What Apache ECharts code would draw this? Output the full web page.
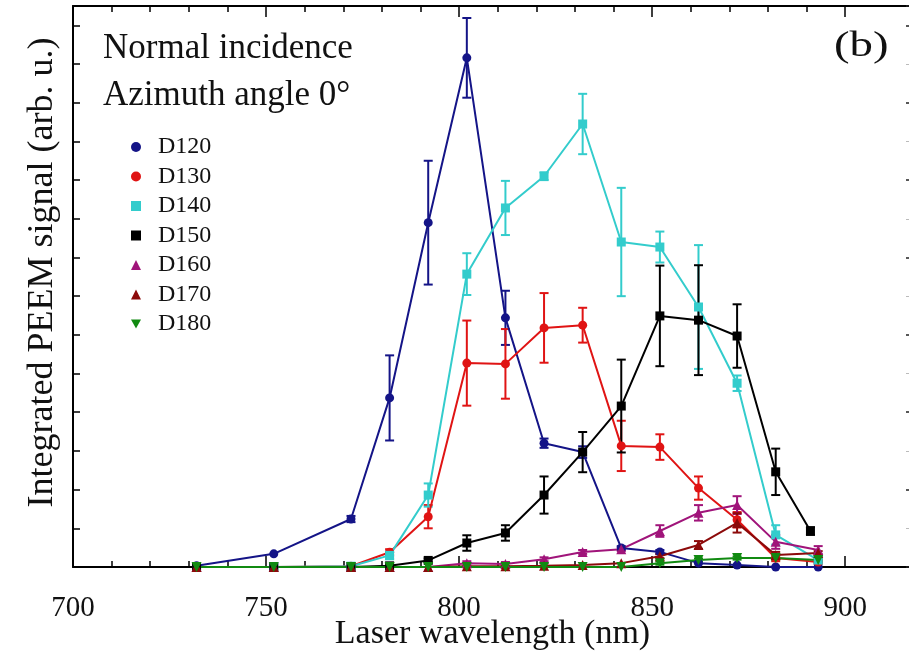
<!DOCTYPE html>
<html><head><meta charset="utf-8">
<script src="https://cdn.jsdelivr.net/npm/echarts@6/dist/echarts.min.js"></script>
<style>html,body{margin:0;padding:0;background:#fff}#c{width:909px;height:656px}</style>
</head><body><div id="c"></div>
<script>
// wavelengths (nm)
const wavelengths = [732, 752, 772, 782, 792, 802, 812, 822, 832, 842, 852, 862, 872, 882, 893];
const wavelengthsD150 = [732, 752, 772, 782, 792, 802, 812, 822, 832, 842, 852, 862, 872, 882, 891];
const seriesNames = ['D120', 'D130', 'D140', 'D150', 'D160', 'D170', 'D180'];
// values (arb. u.)
const D120 = [0.03, 0.34, 1.24, 4.37, 8.9, 13.16, 6.44, 3.2, 2.97, 0.49, 0.39, 0.1, 0.05, 0.0, 0.0];
const D120err = [0, 0, 0.08, 1.1, 1.6, 1.03, 0.7, 0.12, 0.15, 0.05, 0.05, 0, 0, 0, 0];
const D130 = [0, 0, 0.02, 0.38, 1.3, 5.27, 5.25, 6.18, 6.25, 3.13, 3.1, 2.04, 1.22, 0.23, 0.13];
const D130err = [0, 0, 0, 0.08, 0.3, 1.1, 0.9, 0.9, 0.45, 0.65, 0.33, 0.3, 0.2, 0.08, 0.05];
const D140 = [0, 0, 0.02, 0.3, 1.86, 7.57, 9.28, 10.1, 11.45, 8.4, 8.27, 6.72, 4.75, 0.83, 0.18];
const D140err = [0, 0, 0, 0.1, 0.3, 0.54, 0.7, 0.1, 0.78, 1.4, 0.4, 1.6, 0.2, 0.25, 0.08];
const D150 = [0, 0, 0, 0.03, 0.17, 0.62, 0.88, 1.86, 2.97, 4.16, 6.49, 6.38, 5.97, 2.46, 0.93];
const D150err = [0, 0, 0, 0, 0.05, 0.2, 0.2, 0.48, 0.52, 1.2, 1.3, 1.42, 0.82, 0.6, 0.1];
const D160 = [0, 0, 0, 0, 0, 0.1, 0.08, 0.2, 0.39, 0.46, 0.93, 1.4, 1.6, 0.65, 0.44];
const D160err = [0, 0, 0, 0, 0, 0.05, 0.05, 0.05, 0.05, 0.05, 0.15, 0.2, 0.23, 0.18, 0.1];
const D170 = [0, 0, 0, 0, 0, 0.02, 0.02, 0.03, 0.05, 0.1, 0.28, 0.57, 1.14, 0.31, 0.36];
const D170err = [0, 0, 0, 0, 0, 0, 0, 0, 0, 0, 0.05, 0.1, 0.25, 0.08, 0.05];
const D180 = [0, 0, 0, 0, 0, 0, 0, 0, 0, 0, 0.1, 0.18, 0.23, 0.23, 0.18];
const D180err = [0, 0, 0, 0, 0, 0, 0, 0, 0, 0, 0.04, 0.04, 0.04, 0.04, 0.04];
// axis ticks
const xLabelValues = [700, 750, 800, 850, 900];
const xMajorTicks = [750, 800, 850, 900];
const xMinorTicks = [710, 720, 730, 740, 760, 770, 780, 790, 810, 820, 830, 840, 860, 870, 880, 890];

const colors = ['#141487', '#e01414', '#33cccc', '#000000', '#a0147a', '#8c0a0a', '#118a11'];
const invTri = 'path://M0,0 L10,0 L5,9 Z';
const symbols = ['circle', 'circle', 'rect', 'rect', 'triangle', 'triangle', invTri];
const sizes = [9, 9, 9, 9, 10, 10, 10];
const values = [D120, D130, D140, D150, D160, D170, D180];
const errs = [D120err, D130err, D140err, D150err, D160err, D170err, D180err];
const xsets = [wavelengths, wavelengths, wavelengths, wavelengthsD150, wavelengths, wavelengths, wavelengths];

const FONT = 'Liberation Serif';
const series = [];
seriesNames.forEach((name, i) => {
  const color = colors[i];
  const ebData = [];
  xsets[i].forEach((x, k) => {
    if (errs[i][k] > 0) ebData.push([x, values[i][k] - errs[i][k], values[i][k] + errs[i][k]]);
  });
  series.push({
    type: 'custom', name: name, xAxisIndex: 0, yAxisIndex: 0,
    encode: {x: 0, y: [1, 2]}, silent: true, z: 2,
    data: ebData,
    renderItem: function (params, api) {
      const x = api.value(0), lo = api.value(1), hi = api.value(2);
      const p1 = api.coord([x, hi]), p2 = api.coord([x, lo]);
      const w = 4.5;
      const style = {stroke: color, lineWidth: 2};
      return {type: 'group', children: [
        {type: 'line', shape: {x1: p1[0], y1: p1[1], x2: p2[0], y2: p2[1]}, style: style},
        {type: 'line', shape: {x1: p1[0] - w, y1: p1[1], x2: p1[0] + w, y2: p1[1]}, style: style},
        {type: 'line', shape: {x1: p2[0] - w, y1: p2[1], x2: p2[0] + w, y2: p2[1]}, style: style}
      ]};
    }
  });
  series.push({
    type: 'line', name: name, xAxisIndex: 0, yAxisIndex: 0, z: 3,
    data: xsets[i].map((x, k) => [x, values[i][k]]),
    symbol: symbols[i], symbolSize: sizes[i], showAllSymbol: true,
    lineStyle: {color: color, width: 2},
    itemStyle: {color: color},
    animation: false
  });
});

const chart = echarts.init(document.getElementById('c'));
const xBase = {min: 700, max: 917.3, type: 'value', gridIndex: 0, splitLine: {show: false}};
chart.setOption({
  animation: false,
  backgroundColor: '#fff',
  grid: {left: 73, top: 6, width: 839, bottom: 89, outerBoundsMode: 'none', containLabel: false},
  xAxis: [
    Object.assign({}, xBase, {
      position: 'bottom',
      axisLine: {show: true, onZero: false, lineStyle: {color: '#000', width: 2}},
      axisTick: {show: true, inside: true, length: 6, customValues: xMinorTicks, lineStyle: {color: '#000', width: 1.5}},
      axisLabel: {show: true, customValues: xLabelValues, margin: 27, fontFamily: FONT, fontSize: 29, color: '#111'},
      name: 'Laser wavelength (nm)', nameLocation: 'middle', nameGap: 50, nameMoveOverlap: false,
      nameTextStyle: {fontFamily: FONT, fontSize: 34, color: '#111'}
    }),
    Object.assign({}, xBase, {
      position: 'bottom',
      axisLine: {show: false, onZero: false},
      axisTick: {show: true, inside: true, length: 11, customValues: xMajorTicks, lineStyle: {color: '#000', width: 1.5}},
      axisLabel: {show: false}
    }),
    Object.assign({}, xBase, {
      position: 'top',
      axisLine: {show: true, onZero: false, lineStyle: {color: '#000', width: 2}},
      axisTick: {show: true, inside: true, length: 6, customValues: xMinorTicks, lineStyle: {color: '#000', width: 1.5}},
      axisLabel: {show: false}
    }),
    Object.assign({}, xBase, {
      position: 'top',
      axisLine: {show: false, onZero: false},
      axisTick: {show: true, inside: true, length: 11, customValues: xMajorTicks, lineStyle: {color: '#000', width: 1.5}},
      axisLabel: {show: false}
    })
  ],
  yAxis: [
    {
      type: 'value', min: 0, max: 14.5, interval: 1, position: 'left',
      axisLine: {show: true, onZero: false, lineStyle: {color: '#000', width: 2}},
      axisTick: {show: true, inside: true, length: 7, lineStyle: {color: '#000', width: 1.5}},
      axisLabel: {show: false}, splitLine: {show: false},
      name: 'Integrated PEEM signal (arb. u.)', nameLocation: 'middle', nameGap: 12, nameMoveOverlap: false,
      nameTextStyle: {fontFamily: FONT, fontSize: 36, color: '#111', padding: [0, 0, 0, 28]}
    },
    {
      type: 'value', min: 0, max: 14.5, interval: 2, position: 'right',
      axisLine: {show: true, onZero: false, lineStyle: {color: '#000', width: 2}},
      axisTick: {show: true, inside: true, length: 6, lineStyle: {color: '#222', width: 1.5}},
      minorTick: {show: true, splitNumber: 2, length: 6, lineStyle: {color: '#bbb', width: 1}},
      axisLabel: {show: false}, splitLine: {show: false}
    }
  ],
  legend: {
    orient: 'vertical', left: 131, top: 135, padding: 0, itemGap: 5.5,
    itemWidth: 10, itemHeight: 10, selectedMode: false,
    textStyle: {fontFamily: FONT, fontSize: 24, color: '#111', lineHeight: 24, padding: [0, 0, 0, 12]},
    data: seriesNames.map((n, i) => ({name: n, icon: symbols[i], itemStyle: {color: colors[i]}}))
  },
  graphic: [
    {type: 'text', left: 103, top: 31, style: {text: 'Normal incidence', font: '35px "Liberation Serif"', fill: '#111'}},
    {type: 'text', left: 103, top: 78, style: {text: 'Azimuth angle 0°', font: '35px "Liberation Serif"', fill: '#111'}},
    {type: 'text', x: 834, y: 29, scaleX: 1.3, style: {text: '(b)', font: '36px "Liberation Serif"', fill: '#111'}}
  ],
  series: series
});
</script>
</body></html>
